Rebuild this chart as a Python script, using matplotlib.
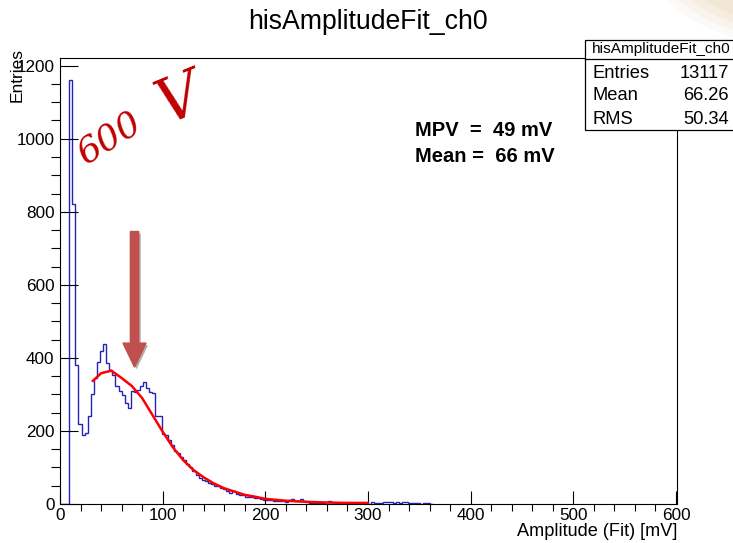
import numpy as np
import matplotlib
matplotlib.use("Agg")
import matplotlib.pyplot as plt
import matplotlib.patheffects as pe
from matplotlib.patches import FancyArrow, Rectangle, Ellipse

plt.rcParams['font.family'] = ['Liberation Sans', 'DejaVu Sans']

# histogram: 3 mV bins starting at 0 mV
bin_width = 3.0
counts = [0, 0, 0, 1160, 822, 380, 220, 188, 195, 240,
          300, 345, 388, 420, 438, 385, 368, 352, 322, 308,
          298, 276, 262, 308, 306, 312, 322, 335, 318, 306,
          305, 242, 242, 192, 190, 175, 162, 145, 140, 128,
          120, 110, 100, 90, 80, 72, 66, 62, 58, 55,
          50, 48, 44, 40, 35, 30, 36, 28, 25, 24,
          20, 18, 20, 16, 17, 14, 12, 11, 10, 9,
          8, 7, 8, 6, 10, 13, 9, 8, 15, 7,
          5, 3, 2, 4, 3, 2, 5, 9, 5, 3,
          2, 1, 2, 1, 1, 2, 1, 0, 1, 0,
          1, 5, 4, 3, 4, 6, 5, 6, 4, 5,
          3, 6, 5, 3, 2, 4, 3, 1, 2, 2, 0]

# fit curve
fit_x = [32, 40, 50, 60, 70, 80, 90, 100, 110, 120, 130, 140, 150,
         160, 170, 180, 190, 200, 220, 240, 260, 280, 300]
fit_y = [337, 358, 365, 345, 323, 290, 244, 198, 155, 120, 93, 73, 56,
         43, 34, 25, 20, 14, 9, 6, 4, 3, 3]

stats_labels = ["Entries", "Mean", "RMS"]
stats_values = ["13117", "66.26", "50.34"]

W, H = 733, 543
fig = plt.figure(figsize=(W / 100, H / 100), dpi=100)
fig.patch.set_facecolor('white')

def fx(px):
    return px / W

def fy(py):
    return 1 - py / H

# beige slide decoration in the upper right corner
for i, a in enumerate([0.25, 0.45, 0.7, 1.0]):
    e = Ellipse((fx(790), fy(-60)), width=(300 - 18 * i) / W, height=(210 - 14 * i) / H,
                transform=fig.transFigure, facecolor='#efe4d0', edgecolor='none',
                alpha=a * 0.6, zorder=0)
    fig.patches.append(e)

ax = fig.add_axes([fx(60), fy(504), fx(677) - fx(60), fy(58) - fy(504)])
ax.set_facecolor('none')

edges = np.arange(len(counts) + 1) * bin_width
ax.stairs(counts, edges, color='#2424b4', lw=1.0, baseline=0)
ax.plot(fit_x, fit_y, color='#ff0000', lw=1.8)

ax.set_xlim(0, 601)
ax.set_ylim(0, 1221)
ax.set_xticks(np.arange(0, 601, 100))
ax.set_xticks(np.arange(0, 601, 20), minor=True)
ax.set_yticks(np.arange(0, 1201, 200))
ax.set_yticks(np.arange(0, 1201, 50), minor=True)
ax.tick_params(axis='both', direction='in', labelsize=12.3, colors='black')
ax.tick_params(axis='y', which='major', length=13, width=0.8, pad=4)
ax.tick_params(axis='y', which='minor', length=6.5, width=0.8)
ax.tick_params(axis='x', which='major', length=9.5, width=0.8, pad=3)
ax.tick_params(axis='x', which='minor', length=5, width=0.8)
for s in ax.spines.values():
    s.set_linewidth(0.8)

# annotation arrow
arrow = FancyArrow(72.6, 746, 0, 374.5 - 746, width=8.1, head_width=22.5,
                   head_length=66, length_includes_head=True,
                   color='#c0504d', zorder=5)
arrow.set_path_effects([pe.SimplePatchShadow(offset=(1.5, -1.5), alpha=0.35),
                        pe.Normal()])
ax.add_patch(arrow)

# handwritten note
fig.text(fx(110), fy(138), "600", color='#c00000', fontsize=26,
         fontstyle='italic', family='DejaVu Serif', rotation=32,
         ha='center', va='center')
fig.text(fx(180), fy(100), "V", color='#c00000', fontsize=44,
         fontstyle='italic', family='DejaVu Serif', rotation=22,
         ha='center', va='center')

# fit results
fig.text(fx(415), fy(130), "MPV  =  49 mV", fontsize=14.5, fontweight='bold',
         ha='left', va='center')
fig.text(fx(415), fy(157), "Mean =  66 mV", fontsize=14.5, fontweight='bold',
         ha='left', va='center')

# title and axis titles
fig.text(fx(368), fy(22), "hisAmplitudeFit_ch0", fontsize=19.2,
         ha='center', va='center')
fig.text(fx(677), fy(532), "Amplitude (Fit) [mV]", fontsize=13.1,
         ha='right', va='center')
fig.text(fx(17), fy(48), "Entries", fontsize=12.5, rotation=90,
         ha='center', va='top')

# stats box
box = Rectangle((fx(585), fy(130)), fx(760) - fx(585), fy(40) - fy(130),
                transform=fig.transFigure, facecolor='white', edgecolor='black',
                lw=0.9, zorder=10)
fig.patches.append(box)
fig.add_artist(plt.Line2D([fx(585), fx(760)], [fy(59), fy(59)],
                          transform=fig.transFigure, color='black', lw=0.9,
                          zorder=11))
fig.text(fx(592), fy(49), "hisAmplitudeFit_ch0", fontsize=11.1,
         ha='left', va='center', zorder=12)
for i, (lab, val) in enumerate(zip(stats_labels, stats_values)):
    yy = 73 + 23 * i
    fig.text(fx(593), fy(yy), lab, fontsize=13.2, ha='left', va='center',
             zorder=12)
    fig.text(fx(729), fy(yy), val, fontsize=13.2, ha='right', va='center',
             zorder=12)

fig.savefig("out.png", dpi=100)
